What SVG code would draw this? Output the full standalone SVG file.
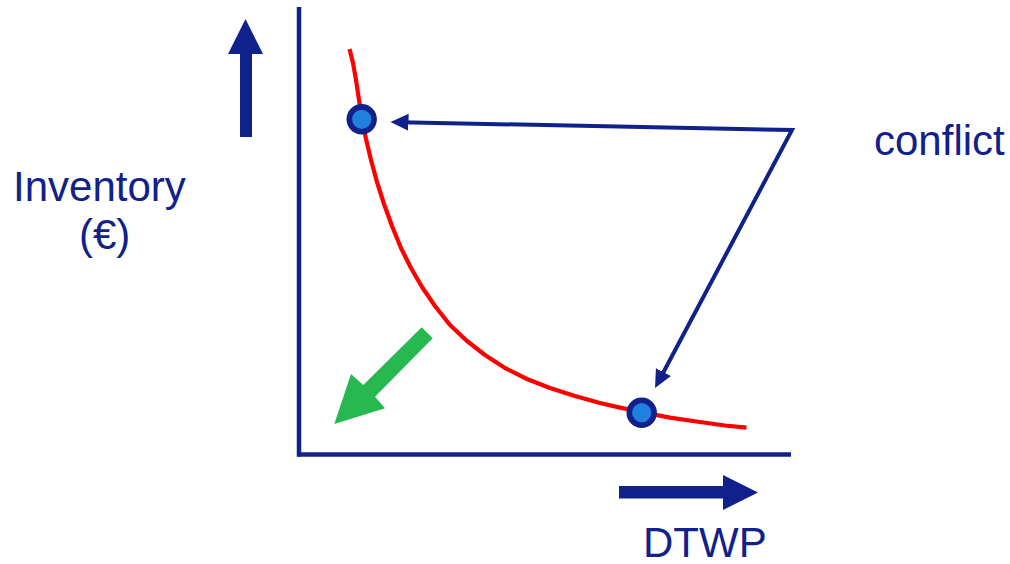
<svg xmlns="http://www.w3.org/2000/svg" width="1010" height="564" viewBox="0 0 1010 564">
  <style>
    .txt { font-family: "Liberation Sans", Arial, sans-serif; font-size: 42px; fill: #10218b; }
    .axis { stroke: #10218b; stroke-width: 4.5; fill: none; }
    .dark { fill: #10218b; }
    .dot { fill: #2080dd; stroke: #10218b; stroke-width: 5.6; }
    .conn { stroke: #10218b; stroke-width: 4; fill: none; stroke-linejoin: miter; }
  </style>
  <defs>
    <marker id="head" markerUnits="userSpaceOnUse" markerWidth="20" markerHeight="18" refX="8" refY="8.5" orient="auto-start-reverse" viewBox="0 0 20 18">
      <path d="M0,0 L18,8.5 L0,17 z" fill="#10218b"/>
    </marker>
  </defs>
  <rect width="1010" height="564" fill="#ffffff"/>

  <g id="axes">
    <line class="axis" x1="299" y1="7" x2="299" y2="456.5"/>
    <line class="axis" x1="297" y1="454.5" x2="791" y2="454.5"/>
  </g>

  <g id="y-arrow">
    <polygon class="dark" points="240,137 252,137 252,54 263,54 245.5,19 228,54 240,54"/>
  </g>
  <g id="x-arrow">
    <polygon class="dark" points="619,486 723,486 723,475 758,492.5 723,510 723,498.5 619,498.5"/>
  </g>

  <g id="curve">
    <path d="M349.5,49 L353,63 L356,80 L359,100 L362,119 L366,139 L371,160 L377,182 L384,204 L392,226 L401,248 L411,268 L422,287 L435,306 L450,325 L467,341 L485,355 L505,368 L527,379 L550,388 L575,396 L600,403 L620,407.6 L641,412 L670,417.6 L700,422 L725,425.5 L746.5,427.7" fill="none" stroke="#ff0000" stroke-width="4.2" stroke-linejoin="round"/>
  </g>

  <g id="green-arrow">
    <polygon fill="#28b850" points="421.7,327.3 432.7,338.3 375,396.7 385,408.3 334.3,424 351,374 363.3,385"/>
  </g>

  <g id="connectors">
    <path class="conn" d="M400.5,122.2 L792,130 L659.7,379.2" marker-start="url(#head)" marker-end="url(#head)"/>
  </g>

  <g id="point-high">
    <circle class="dot" cx="361.7" cy="119.3" r="12.4"/>
  </g>
  <g id="point-low">
    <circle class="dot" cx="641.7" cy="412.7" r="12.4"/>
  </g>

  <g id="label-inventory">
    <text class="txt" x="13" y="201">Inventory</text>
    <text class="txt" x="79" y="249">(€)</text>
  </g>
  <g id="label-conflict">
    <text class="txt" x="874" y="155">conflict</text>
  </g>
  <g id="label-dtwp">
    <text class="txt" x="643" y="557">DTWP</text>
  </g>
</svg>
